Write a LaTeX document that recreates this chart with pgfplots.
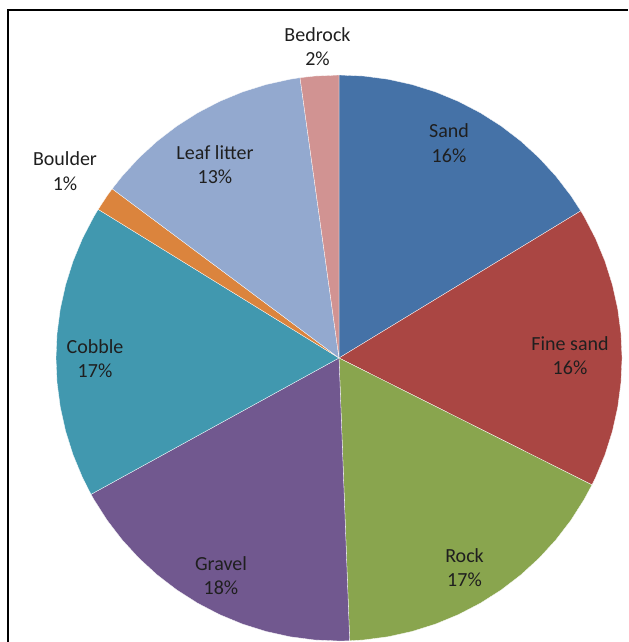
\documentclass[border=0pt]{standalone}
\usepackage{pgfplots}
\pgfplotsset{compat=1.18}
\usepackage{fontspec}
\setmainfont{Carlito}
\definecolor{cSand}{RGB}{69,114,167}
\definecolor{cFine}{RGB}{170,70,67}
\definecolor{cRock}{RGB}{137,165,78}
\definecolor{cGravel}{RGB}{113,88,143}
\definecolor{cCobble}{RGB}{65,152,175}
\definecolor{cBoulder}{RGB}{219,132,61}
\definecolor{cLeaf}{RGB}{147,169,207}
\definecolor{cBedrock}{RGB}{209,147,146}
% Shares (%): Sand 16.3, Fine sand 16.1, Rock 17.0, Gravel 17.6,
% Cobble 16.8, Boulder 1.4, Leaf litter 12.6, Bedrock 2.2
% Sectors given in polar coordinates (angle in degrees, radius 1), clockwise from 12 o'clock.
\begin{document}
\begin{tikzpicture}
\begin{axis}[x=283pt, y=283pt,
  xmin=-1.1979, xmax=1.0212, ymin=-1.0035, ymax=1.2650,
  hide axis, clip=true,
  every axis plot/.append style={data cs=polar, draw=white, line width=0.3pt, mark=none}]
% Sand 16.3%
\addplot[fill=cSand] coordinates {(0,0) (90,1) (85,1) (80,1) (75,1) (70,1) (65,1) (60,1) (55,1) (50,1) (45,1) (40,1) (35,1) (31.32,1) (0,0)};
% Fine sand 16.1%
\addplot[fill=cFine] coordinates {(0,0) (31.32,1) (30,1) (25,1) (20,1) (15,1) (10,1) (5,1) (0,1) (-5,1) (-10,1) (-15,1) (-20,1) (-25,1) (-26.64,1) (0,0)};
% Rock 17.0%
\addplot[fill=cRock] coordinates {(0,0) (-26.64,1) (-30,1) (-35,1) (-40,1) (-45,1) (-50,1) (-55,1) (-60,1) (-65,1) (-70,1) (-75,1) (-80,1) (-85,1) (-87.84,1) (0,0)};
% Gravel 17.6%
\addplot[fill=cGravel] coordinates {(0,0) (-87.84,1) (-90,1) (-95,1) (-100,1) (-105,1) (-110,1) (-115,1) (-120,1) (-125,1) (-130,1) (-135,1) (-140,1) (-145,1) (-150,1) (-151.2,1) (0,0)};
% Cobble 16.8%
\addplot[fill=cCobble] coordinates {(0,0) (-151.2,1) (-155,1) (-160,1) (-165,1) (-170,1) (-175,1) (-180,1) (-185,1) (-190,1) (-195,1) (-200,1) (-205,1) (-210,1) (-211.68,1) (0,0)};
% Boulder 1.4%
\addplot[fill=cBoulder] coordinates {(0,0) (-211.68,1) (-215,1) (-216.72,1) (0,0)};
% Leaf litter 12.6%
\addplot[fill=cLeaf] coordinates {(0,0) (-216.72,1) (-220,1) (-225,1) (-230,1) (-235,1) (-240,1) (-245,1) (-250,1) (-255,1) (-260,1) (-262.08,1) (0,0)};
% Bedrock 2.2%
\addplot[fill=cBedrock] coordinates {(0,0) (-262.08,1) (-265,1) (-270,1) (0,0)};

\draw[black, line width=1.1pt] (axis cs:-1.1696,-1.0035) -- (axis cs:-1.1696,1.2297) -- (axis cs:1.0212,1.2297);

\tikzset{lbl/.style={font=\fontsize{20}{24.5}\selectfont, align=center, text=black!88, inner sep=0pt}}
\node[lbl] at (axis cs:0.3887,0.7597) {Sand\\16\%};
\node[lbl] at (axis cs:0.8163,0.0088) {Fine sand\\16\%};
\node[lbl] at (axis cs:0.4435,-0.7403) {Rock\\17\%};
\node[lbl] at (axis cs:-0.4170,-0.7686) {Gravel\\18\%};
\node[lbl] at (axis cs:-0.8622,-0.0018) {Cobble\\17\%};
\node[lbl] at (axis cs:-0.4382,0.6837) {Leaf litter\\13\%};
\node[lbl] at (axis cs:-0.9682,0.6608) {Boulder\\1\%};
\node[lbl] at (axis cs:-0.0760,1.1007) {Bedrock\\2\%};

\coordinate (LL) at (rel axis cs:0,0);
\coordinate (UR) at (rel axis cs:1,1);
\end{axis}
\pgfresetboundingbox
\path (LL) rectangle (UR);
\end{tikzpicture}
\end{document}
